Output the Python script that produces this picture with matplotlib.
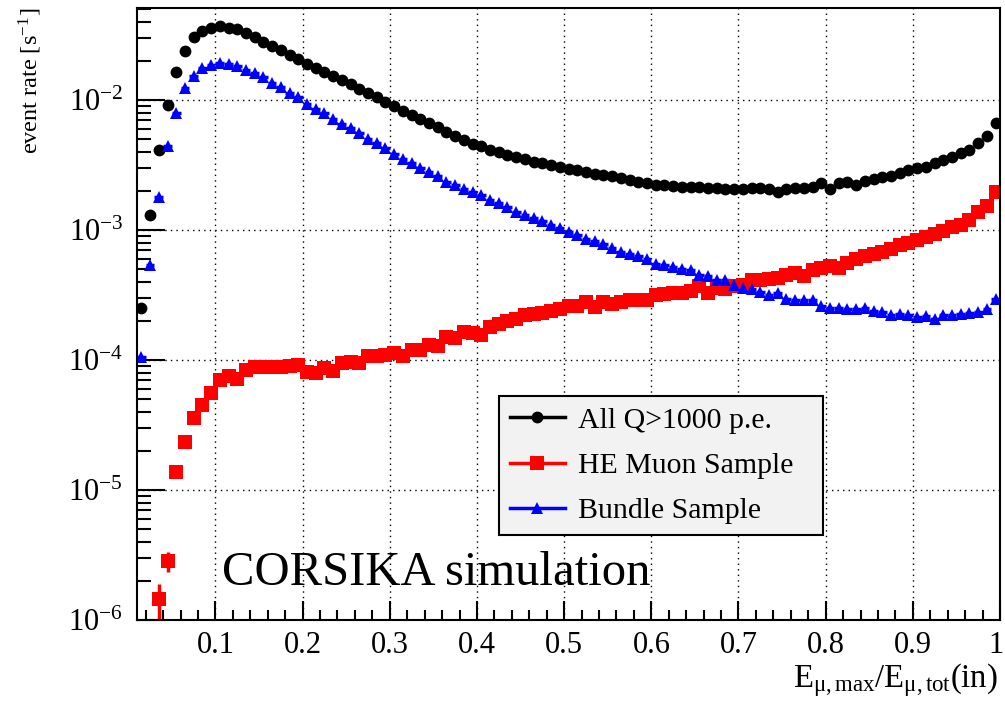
import matplotlib
matplotlib.use("Agg")
import matplotlib.pyplot as plt
import matplotlib.ticker as ticker
import matplotlib.transforms as mtransforms
from matplotlib.lines import Line2D
import numpy as np

plt.rcParams['font.family'] = 'Liberation Serif'
plt.rcParams['mathtext.fontset'] = 'stix'

# bin centres, 99 bins of width 0.01 between 0.01 and 1.0
x = np.round(np.arange(0.015, 1.0, 0.01), 3)
half_bin = 0.005

# event rates [1/s], rows are 0.01-0.1, 0.1-0.2, ... , 0.9-1.0
all_q1000 = [
    2.5e-4, 1.3e-3, 4.1e-3, 9.2e-3, 1.65e-2, 2.4e-2, 3.05e-2, 3.4e-2, 3.6e-2,
    3.7e-2, 3.6e-2, 3.5e-2, 3.27e-2, 3.03e-2, 2.8e-2, 2.6e-2, 2.42e-2, 2.2e-2, 2.05e-2,
    1.88e-2, 1.75e-2, 1.63e-2, 1.52e-2, 1.42e-2, 1.32e-2, 1.22e-2, 1.13e-2, 1.05e-2, 9.7e-3,
    9.0e-3, 8.3e-3, 7.7e-3, 7.2e-3, 6.7e-3, 6.2e-3, 5.7e-3, 5.25e-3, 4.9e-3, 4.6e-3,
    4.4e-3, 4.15e-3, 3.95e-3, 3.8e-3, 3.65e-3, 3.5e-3, 3.35e-3, 3.25e-3, 3.15e-3, 3.05e-3,
    2.97e-3, 2.9e-3, 2.78e-3, 2.7e-3, 2.65e-3, 2.58e-3, 2.5e-3, 2.42e-3, 2.35e-3, 2.28e-3,
    2.22e-3, 2.2e-3, 2.17e-3, 2.15e-3, 2.15e-3, 2.13e-3, 2.12e-3, 2.1e-3, 2.08e-3, 2.06e-3,
    2.08e-3, 2.1e-3, 2.1e-3, 2.05e-3, 1.97e-3, 2.08e-3, 2.1e-3, 2.1e-3, 2.15e-3, 2.3e-3,
    2.08e-3, 2.3e-3, 2.35e-3, 2.22e-3, 2.4e-3, 2.48e-3, 2.55e-3, 2.62e-3, 2.75e-3, 2.9e-3,
    2.98e-3, 3.05e-3, 3.25e-3, 3.45e-3, 3.65e-3, 3.9e-3, 4.15e-3, 4.7e-3, 5.3e-3, 6.7e-3,
]

he_muon = [
    np.nan, np.nan, 1.45e-6, 2.85e-6, 1.37e-5, 2.33e-5, 3.6e-5, 4.5e-5, 5.6e-5,
    7.0e-5, 7.5e-5, 7.2e-5, 8.4e-5, 8.9e-5, 8.9e-5, 8.9e-5, 8.9e-5, 9.0e-5, 9.2e-5,
    8.1e-5, 7.9e-5, 8.7e-5, 8.3e-5, 9.5e-5, 9.7e-5, 9.4e-5, 1.07e-4, 1.08e-4, 1.1e-4,
    1.13e-4, 1.07e-4, 1.2e-4, 1.2e-4, 1.3e-4, 1.28e-4, 1.5e-4, 1.48e-4, 1.65e-4, 1.6e-4,
    1.55e-4, 1.8e-4, 1.9e-4, 1.98e-4, 2.05e-4, 2.2e-4, 2.25e-4, 2.3e-4, 2.4e-4, 2.45e-4,
    2.6e-4, 2.6e-4, 2.8e-4, 2.55e-4, 2.8e-4, 2.7e-4, 2.8e-4, 2.9e-4, 2.9e-4, 2.9e-4,
    3.15e-4, 3.2e-4, 3.3e-4, 3.3e-4, 3.4e-4, 3.7e-4, 3.3e-4, 3.6e-4, 3.5e-4, 3.7e-4,
    3.8e-4, 4.1e-4, 4.15e-4, 4.2e-4, 4.3e-4, 4.5e-4, 4.7e-4, 4.4e-4, 4.9e-4, 5.1e-4,
    5.3e-4, 5.1e-4, 5.6e-4, 6.0e-4, 6.3e-4, 6.5e-4, 6.8e-4, 7.2e-4, 7.6e-4, 8.0e-4,
    8.4e-4, 8.8e-4, 9.3e-4, 9.8e-4, 1.06e-3, 1.1e-3, 1.2e-3, 1.38e-3, 1.53e-3, 1.97e-3,
]

bundle = [
    1.05e-4, 5.4e-4, 1.78e-3, 4.4e-3, 7.9e-3, 1.23e-2, 1.53e-2, 1.75e-2, 1.86e-2,
    1.94e-2, 1.89e-2, 1.83e-2, 1.7e-2, 1.6e-2, 1.5e-2, 1.36e-2, 1.25e-2, 1.13e-2, 1.05e-2,
    9.3e-3, 8.6e-3, 7.9e-3, 7.2e-3, 6.5e-3, 6.05e-3, 5.55e-3, 5.0e-3, 4.65e-3, 4.25e-3,
    3.85e-3, 3.5e-3, 3.26e-3, 2.98e-3, 2.8e-3, 2.6e-3, 2.35e-3, 2.2e-3, 2.05e-3, 1.95e-3,
    1.85e-3, 1.7e-3, 1.6e-3, 1.5e-3, 1.38e-3, 1.3e-3, 1.23e-3, 1.17e-3, 1.1e-3, 1.03e-3,
    9.7e-4, 9.1e-4, 8.6e-4, 8.2e-4, 7.8e-4, 7.3e-4, 6.8e-4, 6.5e-4, 6.3e-4, 6.0e-4,
    5.5e-4, 5.4e-4, 5.2e-4, 5.0e-4, 4.9e-4, 4.5e-4, 4.45e-4, 4.15e-4, 4.1e-4, 3.8e-4,
    3.6e-4, 3.5e-4, 3.35e-4, 3.15e-4, 3.3e-4, 2.95e-4, 2.9e-4, 2.9e-4, 2.9e-4, 2.6e-4,
    2.5e-4, 2.5e-4, 2.45e-4, 2.45e-4, 2.5e-4, 2.4e-4, 2.35e-4, 2.22e-4, 2.25e-4, 2.2e-4,
    2.15e-4, 2.18e-4, 2.08e-4, 2.2e-4, 2.2e-4, 2.25e-4, 2.3e-4, 2.35e-4, 2.45e-4, 2.95e-4,
]

# visible statistical errors of the first HE muon bins
he_err_x = [0.035, 0.045, 0.055]
he_err_y = [1.45e-6, 2.85e-6, 1.37e-5]
he_err = [0.45e-6, 0.5e-6, 1.0e-6]

labels = ['All Q>1000 p.e.', 'HE Muon Sample', 'Bundle Sample']
colors = ['black', 'red', 'blue']
markers = ['o', 's', '^']
sizes = [8.5, 9.5, 8.5]

W, H = 1005, 702
fig = plt.figure(figsize=(W / 100, H / 100), dpi=100)
ax = fig.add_axes([137 / W, 1 - 620 / H, (1000 - 137) / W, (620 - 8) / H])

ax.errorbar(he_err_x, he_err_y, yerr=he_err, fmt='none', ecolor='red', elinewidth=2.5)
# ROOT style: marker plus horizontal bar over the bin width
for y, c, m, s in zip([all_q1000, he_muon, bundle], colors, markers, sizes):
    ax.errorbar(x, y, xerr=half_bin, fmt=m, color=c, ms=s, mew=0, elinewidth=2.5)

ax.set_yscale('log')
ax.set_xlim(0.01, 1.0)
ax.set_ylim(1e-6, 0.051)

ax.xaxis.set_major_locator(ticker.MultipleLocator(0.1))
ax.xaxis.set_minor_locator(ticker.MultipleLocator(0.02))
ax.xaxis.set_major_formatter(ticker.FuncFormatter(lambda v, p: '1' if abs(v - 1) < 1e-9 else f'{v:.1f}'))
ax.yaxis.set_major_locator(ticker.LogLocator(base=10, numticks=20))
ax.yaxis.set_minor_locator(ticker.LogLocator(base=10, subs=np.arange(2, 10), numticks=20))
ax.yaxis.set_minor_formatter(ticker.NullFormatter())
ax.yaxis.set_major_formatter(ticker.FuncFormatter(lambda v, p: r'$\mathregular{10^{%d}}$' % round(np.log10(v))))

ax.tick_params(axis='both', which='both', direction='in', top=False, right=False, width=1.5, colors='black')
ax.tick_params(axis='x', which='major', length=14, labelsize=22, pad=8)
ax.tick_params(axis='x', which='minor', length=7)
ax.tick_params(axis='y', which='major', length=20, labelsize=22, pad=10)
ax.tick_params(axis='y', which='minor', length=10)

ax.grid(True, which='major', color='black', linestyle=(0, (1, 3)), linewidth=1)
for s in ax.spines.values():
    s.set_linewidth(1.5)

handles = [Line2D([], [], color=c, marker=m, ms=s, mew=0, lw=2.5)
           for c, m, s in zip(colors, markers, sizes)]
leg = ax.legend(handles, labels, loc='upper left', mode='expand',
                bbox_to_anchor=(499 / W, 1 - 536 / H, (823 - 499) / W, (536 - 396) / H),
                bbox_transform=fig.transFigure,
                fontsize=21.5, frameon=True, fancybox=False, framealpha=1, edgecolor='black',
                facecolor='#f2f2f2', handlelength=1.85, handletextpad=0.45, labelspacing=0.62,
                borderpad=0.36, borderaxespad=0)
leg.get_frame().set_linewidth(1.5)

fig.text(222 / W, 1 - 585 / H, 'CORSIKA simulation', fontsize=35, va='baseline', ha='left')
fig.text(998 / W, 1 - 687 / H, r'$\mathregular{E_{\mu,max}/E_{\mu,tot}(in)}$', fontsize=23.5,
         ha='right', va='baseline')
fig.text(30 / W, 1 - 8 / H, r'event rate [s$^{\mathregular{-1}}$]', fontsize=17.5, rotation=90,
         ha='center', va='top')

# keep the "1" at the right edge inside the picture
fig.canvas.draw()
shift = mtransforms.ScaledTranslation(-4 / 100, 0, fig.dpi_scale_trans)
for lab in ax.get_xticklabels():
    if lab.get_text() == '1':
        lab.set_transform(lab.get_transform() + shift)

fig.savefig('out.png', dpi=100)
